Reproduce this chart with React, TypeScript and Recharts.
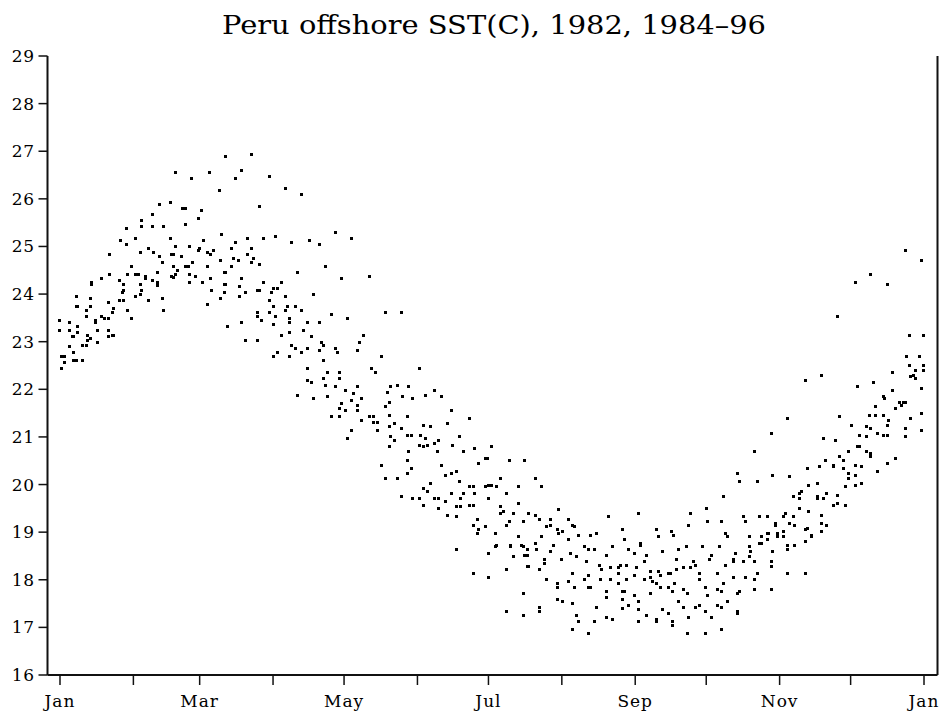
import React from "react";
import { ScatterChart, Scatter, XAxis, YAxis } from "recharts";

// Day of year (0 = Jan 1) and SST (deg C)
const segJanMar: [number, number][] = [
  [69.8,26.89],[49.0,26.55],[63.2,26.55],[55.6,26.43],[74.1,26.43],[67.4,26.17],[42.2,25.88],[46.5,25.92],[51.8,25.80],[53.2,25.80],
  [59.7,25.75],[38.9,25.67],[58.3,25.59],[34.6,25.54],[34.6,25.42],[38.9,25.42],[43.9,25.42],[53.2,25.46],[27.9,25.37],[68.4,25.25],
  [25.5,25.12],[32.1,25.16],[46.5,25.16],[27.9,25.04],[74.3,25.08],[60.8,25.12],[72.6,24.95],[37.2,24.95],[33.8,24.87],[39.7,24.87],
  [49.0,25.00],[54.9,25.00],[59.1,24.95],[58.3,24.91],[62.5,24.87],[65.0,24.91],[48.1,24.83],[47.3,24.83],[42.2,24.79],[51.5,24.79],
  [63.4,24.83],[21.1,24.83],[43.1,24.66],[55.8,24.66],[67.6,24.70],[73.5,24.74],[75.2,24.70],[30.4,24.58],[48.1,24.58],[53.2,24.58],
  [54.1,24.58],[62.5,24.58],[72.6,24.58],[41.4,24.45],[49.8,24.49],[49.0,24.41],[47.3,24.36],[48.1,24.34],[32.1,24.41],[33.0,24.41],
  [28.7,24.41],[36.3,24.36],[36.3,24.32],[38.9,24.28],[41.4,24.24],[41.4,24.17],[54.9,24.41],[57.4,24.36],[54.9,24.24],[60.0,24.24],
  [63.4,24.32],[69.3,24.45],[70.1,24.45],[13.5,24.24],[13.5,24.20],[17.7,24.32],[21.1,24.41],[25.3,24.28],[27.0,24.20],[33.8,24.20],
  [69.3,24.20],[70.1,24.20],[27.0,24.07],[26.2,24.03],[34.6,24.07],[33.8,23.99],[32.1,23.94],[64.2,24.07],[69.3,24.03],[67.6,23.90],
  [25.3,23.86],[27.0,23.86],[37.2,23.86],[43.1,23.90],[62.5,23.78],[6.8,23.94],[12.7,23.90],[20.3,23.82],[6.8,23.73],[7.6,23.73],
  [12.7,23.73],[11.0,23.65],[22.8,23.69],[22.0,23.61],[28.7,23.65],[43.9,23.65],[11.0,23.52],[17.7,23.52],[18.6,23.48],[20.3,23.48],
  [15.2,23.44],[15.2,23.40],[30.4,23.48],[0.0,23.44],[4.2,23.40],[7.6,23.31],[4.2,23.23],[0.0,23.23],[5.1,23.10],[5.9,23.10],
  [7.6,23.19],[11.8,23.14],[12.7,23.06],[11.8,23.02],[9.3,22.93],[11.0,22.93],[16.0,22.98],[16.0,23.23],[20.3,23.23],[20.3,23.10],
  [22.0,23.14],[22.8,23.14],[70.7,23.31],[4.2,22.89],[5.9,22.77],[0.8,22.68],[1.7,22.68],[1.7,22.56],[0.8,22.43],[5.9,22.60],
  [6.8,22.60],[9.3,22.60],[76.0,24.15],[76.0,23.94],
];

const segMarMay: [number, number][] = [
  [81.0,26.93],[76.7,26.60],[88.6,26.47],[95.3,26.22],[102.1,26.09],[84.4,25.84],[116.5,25.29],[79.3,25.16],[86.0,25.16],[91.1,25.21],
  [97.9,25.08],[105.5,25.12],[109.7,25.04],[123.2,25.16],[81.0,24.95],[79.3,24.83],[81.8,24.74],[81.0,24.66],[84.4,24.62],[112.2,24.58],
  [100.4,24.45],[119.0,24.32],[130.8,24.36],[76.7,24.32],[86.0,24.24],[93.6,24.24],[84.4,24.07],[83.5,24.07],[90.3,24.11],[92.0,24.11],
  [89.4,24.03],[78.4,24.03],[95.3,23.94],[107.2,23.99],[88.6,23.86],[90.3,23.73],[96.2,23.73],[99.6,23.73],[95.3,23.65],[102.1,23.65],
  [88.6,23.61],[83.5,23.61],[83.5,23.52],[91.1,23.52],[85.2,23.44],[97.0,23.48],[97.0,23.40],[90.3,23.36],[104.6,23.40],[109.7,23.40],
  [114.8,23.57],[121.5,23.48],[137.6,23.61],[144.3,23.61],[76.7,23.40],[93.6,23.14],[97.0,23.19],[103.0,23.23],[106.3,23.10],[128.3,23.14],
  [78.4,23.02],[83.5,23.02],[97.9,22.93],[99.6,22.85],[102.1,22.77],[104.6,22.85],[110.5,22.98],[111.4,22.93],[109.7,22.81],[116.5,22.85],
  [117.3,22.77],[126.6,22.98],[125.7,22.81],[92.0,22.77],[90.3,22.68],[97.0,22.68],[135.9,22.68],[111.4,22.60],[104.6,22.43],[113.1,22.35],
  [118.2,22.35],[131.7,22.43],[133.4,22.35],[151.9,22.43],[104.6,22.19],[106.3,22.15],[111.4,22.22],[118.2,22.22],[112.2,22.09],[116.5,22.05],
  [120.7,21.97],[125.7,22.05],[100.4,21.88],[107.2,21.80],[113.1,21.84],[124.1,21.92],[119.0,21.71],[123.2,21.76],[127.4,21.80],[118.2,21.59],
  [125.7,21.67],[120.7,21.55],[125.7,21.55],[114.8,21.42],[118.2,21.42],[130.8,21.42],[132.5,21.42],[132.5,21.31],[134.2,21.31],[127.4,21.34],
  [123.2,21.13],[134.2,21.13],[121.5,20.97],
];

const segMayJul: [number, number][] = [
  [139.8,22.05],[142.4,22.09],[147.4,22.05],[138.2,21.93],[144.9,21.84],[149.1,21.80],[154.2,21.88],[158.4,21.97],[161.0,21.84],[139.0,21.72],
  [137.3,21.63],[165.2,21.55],[139.0,21.46],[146.6,21.42],[172.8,21.38],[141.5,21.29],[139.0,21.21],[144.1,21.17],[153.4,21.25],[156.7,21.21],
  [163.5,21.29],[146.6,21.04],[148.3,21.04],[152.5,21.04],[139.8,21.00],[141.5,20.92],[154.2,20.96],[158.4,20.87],[160.1,20.92],[168.6,21.00],
  [139.0,20.79],[151.7,20.83],[153.4,20.79],[155.1,20.83],[166.0,20.83],[147.4,20.70],[159.3,20.70],[170.3,20.70],[175.3,20.75],[182.1,20.79],
  [146.6,20.50],[161.0,20.41],[177.0,20.45],[179.6,20.54],[180.4,20.54],[189.7,20.50],[196.4,20.50],[135.9,20.41],[148.3,20.33],[146.6,20.24],
  [162.7,20.20],[165.2,20.24],[167.7,20.28],[137.3,20.12],[142.4,20.12],[168.6,20.07],[156.7,20.03],[186.3,20.12],[200.7,20.12],[153.4,19.91],
  [155.1,19.86],[165.2,19.82],[170.3,19.82],[172.8,19.95],[174.5,19.95],[175.3,19.82],[179.6,19.95],[181.2,19.99],[182.1,19.99],[184.6,19.95],
  [193.9,19.95],[203.2,19.95],[188.8,19.82],[144.1,19.74],[149.1,19.70],[151.7,19.70],[158.4,19.70],[160.1,19.70],[162.7,19.65],[169.4,19.70],
  [181.2,19.70],[153.4,19.57],[160.1,19.49],[167.7,19.53],[169.4,19.53],[172.8,19.57],[174.5,19.57],[186.3,19.53],[187.2,19.44],[193.9,19.61],
  [186.3,19.40],[191.4,19.40],[163.5,19.36],[167.7,19.32],[176.2,19.27],[174.5,19.15],[179.6,19.11],[177.0,19.06],[176.2,18.98],[183.8,18.98],
  [188.8,19.15],[189.7,19.23],[195.6,19.23],[198.1,19.40],[200.7,19.36],[202.4,19.27],[207.4,19.27],[210.8,19.48],[205.7,19.11],[207.4,19.15],
  [210.0,19.06],[210.8,18.98],[193.9,18.90],[203.2,18.90],[167.7,18.64],[181.2,18.56],[184.6,18.73],[183.8,18.69],[190.5,18.73],[190.5,18.69],
  [194.8,18.73],[195.6,18.69],[197.3,18.64],[200.7,18.77],[201.5,18.64],[208.3,18.73],[207.4,18.60],[191.4,18.48],[196.4,18.52],[197.3,18.52],
  [204.6,18.43],[204.6,18.35],[197.3,18.27],[198.1,18.27],[202.4,18.22],[174.5,18.14],[181.2,18.05],[188.8,18.22],[205.7,18.01],[210.0,17.93],
  [210.0,17.84],[195.6,17.72],[210.0,17.59],[188.8,17.34],[195.6,17.26],[202.4,17.42],[202.4,17.34],
];

const segAugOct: [number, number][] = [
  [214.8,19.27],[216.5,19.15],[217.3,19.11],[212.2,19.02],[214.8,18.85],[219.0,18.94],[224.1,18.94],[226.6,18.98],[231.7,19.32],[244.3,19.40],
  [237.6,19.06],[238.4,18.85],[251.9,19.06],[252.8,18.90],[258.4,19.02],[259.3,18.94],[265.5,19.15],[266.3,19.40],[273.1,19.49],[273.6,19.23],
  [279.5,19.23],[280.4,19.74],[286.3,20.24],[287.1,20.07],[281.2,18.98],[282.1,18.90],[221.5,18.69],[223.2,18.64],[225.8,18.64],[233.4,18.69],
  [245.2,18.77],[245.2,18.73],[240.1,18.64],[242.6,18.56],[247.7,18.52],[254.5,18.60],[261.2,18.64],[264.6,18.69],[271.4,18.69],[278.7,18.69],
  [285.5,18.56],[212.0,18.43],[215.6,18.56],[218.2,18.48],[222.4,18.39],[230.8,18.52],[246.9,18.39],[260.4,18.43],[275.3,18.52],[274.5,18.43],
  [284.6,18.43],[284.6,18.39],[281.2,18.31],[228.0,18.31],[228.9,18.22],[232.5,18.26],[235.9,18.26],[236.7,18.31],[239.3,18.31],[243.5,18.26],
  [249.4,18.18],[252.8,18.18],[253.6,18.10],[257.0,18.14],[257.9,18.14],[260.4,18.22],[263.5,18.26],[266.3,18.26],[267.7,18.39],[268.6,18.31],
  [270.2,18.14],[277.8,18.14],[216.5,18.14],[223.2,18.10],[221.5,18.01],[228.3,18.01],[232.5,18.01],[235.9,18.14],[239.3,18.01],[242.6,18.10],
  [246.9,18.01],[249.4,18.05],[250.3,17.97],[251.9,17.93],[253.6,17.84],[257.0,17.84],[258.7,17.76],[259.5,17.93],[270.2,18.01],[284.6,18.05],
  [214.8,17.97],[217.3,17.84],[223.2,17.84],[224.1,17.84],[235.9,17.93],[237.6,17.76],[238.4,17.76],[230.8,17.76],[230.8,17.63],[237.6,17.59],
  [242.6,17.68],[249.4,17.72],[263.5,17.80],[265.2,17.72],[272.8,17.84],[273.6,17.68],[277.8,17.80],[280.4,17.93],[279.5,17.76],[286.3,17.72],
  [287.1,17.76],[212.2,17.55],[216.5,17.51],[226.6,17.42],[237.6,17.40],[240.1,17.47],[244.3,17.55],[244.3,17.38],[254.5,17.38],[257.0,17.30],
  [261.2,17.55],[263.5,17.42],[268.6,17.42],[270.2,17.47],[272.8,17.34],[275.3,17.21],[277.8,17.47],[279.5,17.42],[282.1,17.55],[286.3,17.34],
  [286.3,17.30],[218.2,17.25],[219.0,17.13],[225.8,17.13],[230.8,17.21],[233.4,17.17],[244.3,17.13],[247.7,17.25],[251.9,17.17],[251.9,17.13],
  [258.7,17.13],[258.7,17.04],[265.5,17.21],[216.5,16.96],[223.2,16.88],[265.2,16.88],[272.8,16.88],[279.5,16.96],
];

const segOctDec: [number, number][] = [
  [314.8,22.18],[336.7,22.05],[343.5,22.14],[351.9,21.97],[363.8,22.01],[347.7,21.84],[348.5,21.80],[344.3,21.63],[354.5,21.72],[355.3,21.67],
  [356.2,21.72],[357.0,21.72],[352.8,21.59],[341.8,21.46],[344.3,21.46],[347.7,21.46],[329.1,21.42],[307.2,21.38],[334.2,21.25],[340.9,21.21],
  [342.6,21.17],[350.2,21.34],[349.4,21.25],[359.5,21.38],[363.8,21.50],[357.0,21.17],[363.8,21.13],[300.4,21.08],[345.2,21.08],[337.6,21.04],
  [340.9,21.00],[347.7,21.04],[349.4,21.04],[357.0,21.00],[322.4,20.96],[327.4,20.92],[336.7,20.79],[337.6,20.79],[333.3,20.70],[340.9,20.70],
  [342.6,20.66],[342.6,20.58],[329.1,20.58],[330.8,20.50],[323.2,20.50],[352.8,20.54],[349.4,20.45],[293.6,20.70],[320.7,20.37],[326.6,20.41],
  [326.6,20.37],[330.8,20.33],[335.9,20.41],[338.4,20.37],[345.2,20.28],[315.6,20.33],[333.3,20.24],[335.9,20.20],[333.3,20.12],[294.5,20.07],
  [301.2,20.20],[308.0,20.16],[319.8,20.03],[316.4,19.99],[338.4,20.03],[335.9,19.99],[331.7,19.95],[313.1,19.86],[312.2,19.82],[309.7,19.74],
  [312.2,19.70],[319.8,19.74],[319.8,19.70],[322.4,19.70],[324.0,19.82],[328.3,19.78],[328.3,19.61],[326.6,19.57],[331.7,19.57],[316.4,19.44],
  [312.2,19.49],[288.6,19.32],[289.4,19.23],[295.3,19.32],[298.7,19.32],[305.5,19.32],[306.3,19.40],[309.7,19.32],[321.5,19.36],[302.1,19.19],
  [302.1,19.15],[308.0,19.19],[310.5,19.15],[321.5,19.19],[324.0,19.15],[314.8,19.06],[315.6,19.08],[321.5,19.02],[305.5,19.02],[302.9,18.98],
  [302.9,18.90],[298.7,18.98],[299.5,18.98],[291.1,18.90],[296.2,18.90],[298.7,18.85],[295.3,18.77],[296.2,18.77],[305.5,18.90],[317.3,18.94],
  [317.3,18.90],[314.8,18.81],[307.2,18.73],[307.2,18.64],[310.5,18.73],[291.1,18.69],[291.9,18.60],[301.2,18.60],[291.1,18.48],[288.6,18.39],
  [293.6,18.39],[300.4,18.39],[300.4,18.27],[294.5,18.14],[289.4,18.05],[293.6,18.01],[307.2,18.14],[314.8,18.14],[293.6,17.80],[300.4,17.80],
];

const segDecHigh: [number, number][] = [
  [357.0,24.91],[363.8,24.70],[342.6,24.41],[335.9,24.24],[349.4,24.20],[328.3,23.52],[358.7,23.14],[364.6,23.14],[357.8,22.68],[362.9,22.68],
  [358.7,22.51],[364.6,22.51],[361.2,22.39],[364.6,22.39],[351.9,22.35],[359.5,22.26],[360.4,22.30],[361.2,22.22],[321.5,22.30],
];

const MONTH_STARTS = [0, 31, 59, 90, 120, 151, 181, 212, 243, 273, 304, 334, 365];
const MONTH_LABELS = ["Jan", "", "Mar", "", "May", "", "Jul", "", "Sep", "", "Nov", "", "Jan"];
const SST_TICKS = [16, 17, 18, 19, 20, 21, 22, 23, 24, 25, 26, 27, 28, 29];
const TITLE = "Peru offshore SST(C), 1982, 1984\u201396";

const data = [...segJanMar, ...segMarMay, ...segMayJul, ...segAugOct, ...segOctDec, ...segDecHigh].map(
  ([day, sst]) => ({ day, sst })
);

const FONT = "'DejaVu Serif', 'Liberation Serif', serif";

const Dot = (props: any) => {
  const { cx, cy } = props;
  if (cx == null || cy == null) return null;
  return (
    <rect
      x={Math.round(cx - 1.5)}
      y={Math.round(cy - 1.5)}
      width={3}
      height={3}
      fill="#000"
      shapeRendering="crispEdges"
    />
  );
};

const YTick = (props: any) => {
  const { x, y, payload } = props;
  return (
    <text x={x} y={y} dy={6} textAnchor="end" fontFamily={FONT} fontSize={17} fill="#000" letterSpacing={0.5}>
      {payload.value}
    </text>
  );
};

const XTick = (props: any) => {
  const { x, y, payload } = props;
  const idx = MONTH_STARTS.indexOf(payload.value);
  const label = idx >= 0 ? MONTH_LABELS[idx] : "";
  if (!label) return <g />;
  return (
    <text x={x} y={y} dy={12} textAnchor="middle" fontFamily={FONT} fontSize={17} fill="#000" letterSpacing={1}>
      {label}
    </text>
  );
};

const axisLine = { stroke: "#111", strokeWidth: 2 };
const tickLine = { stroke: "#111", strokeWidth: 1.5 };

export default function App() {
  return (
    <div style={{ position: "absolute", left: 0, top: 0, width: 952, height: 725, background: "#fff" }}>
      <svg width={952} height={50} style={{ position: "absolute", left: 0, top: 0 }}>
        <text
          x={494}
          y={34}
          textAnchor="middle"
          fontFamily={FONT}
          fontSize={26}
          fill="#000"
          textLength={544}
          lengthAdjust="spacingAndGlyphs"
        >
          {TITLE}
        </text>
      </svg>
      <div style={{ position: "absolute", left: 0, top: 0 }}>
        <ScatterChart width={952} height={725} margin={{ top: 56, right: 0, bottom: 0, left: 0 }}>
          <XAxis
            xAxisId={0}
            type="number"
            dataKey="day"
            domain={[-5.28, 370.7]}
            ticks={MONTH_STARTS}
            interval={0}
            allowDataOverflow
            height={50}
            tickSize={10}
            tickMargin={10}
            axisLine={axisLine}
            tickLine={tickLine}
            tick={<XTick />}
          />
          <XAxis
            xAxisId="top"
            orientation="top"
            type="number"
            dataKey="day"
            domain={[-5.28, 370.7]}
            ticks={MONTH_STARTS}
            interval={0}
            allowDataOverflow
            height={0}
            tickSize={10}
            axisLine={axisLine}
            tickLine={tickLine}
            tick={false}
          />
          <YAxis
            yAxisId={0}
            type="number"
            dataKey="sst"
            domain={[16, 29]}
            ticks={SST_TICKS}
            interval={0}
            allowDataOverflow
            width={47.5}
            tickSize={9}
            tickMargin={4}
            axisLine={axisLine}
            tickLine={tickLine}
            tick={<YTick />}
          />
          <YAxis
            yAxisId="right"
            orientation="right"
            type="number"
            domain={[16, 29]}
            ticks={SST_TICKS}
            interval={0}
            allowDataOverflow
            width={14.5}
            tickSize={9}
            axisLine={axisLine}
            tickLine={tickLine}
            tick={false}
          />
          <Scatter
            xAxisId={0}
            yAxisId={0}
            data={data}
            dataKey="sst"
            shape={Dot}
            isAnimationActive={false}
          />
        </ScatterChart>
      </div>
    </div>
  );
}
